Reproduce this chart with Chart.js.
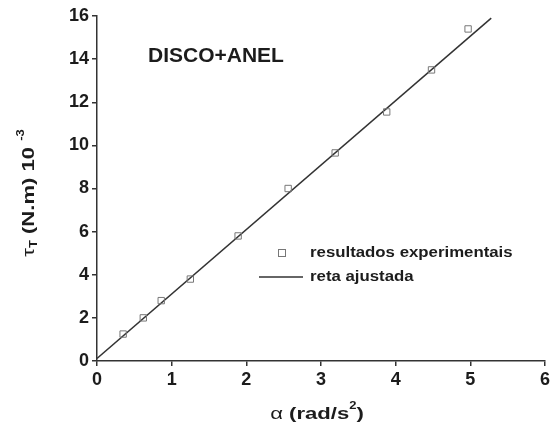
<!DOCTYPE html>
<html>
<head>
<meta charset="utf-8">
<script src="https://cdn.jsdelivr.net/npm/chart.js@4/dist/chart.umd.min.js"></script>
<style>
html, body { margin: 0; padding: 0; background: #fff; }
#wrap { width: 554px; height: 427px; }
</style>
</head>
<body>
<div id="wrap"><canvas id="torque-chart"></canvas></div>
<script>
// experimental points: angular acceleration vs torque (x 10^-3)
var alphaVals = [0.35, 0.62, 0.86, 1.25, 1.89, 2.56, 3.19, 3.88, 4.48, 4.97];
var torqueVals = [1.25, 2.0, 2.8, 3.8, 5.8, 8.0, 9.65, 11.55, 13.5, 15.4];
// fitted straight line, end points
var fitX = [0, 5.28];
var fitY = [0.12, 15.9];
var xTicks = [0, 1, 2, 3, 4, 5, 6];
var yTicks = [0, 2, 4, 6, 8, 10, 12, 14, 16];
var seriesLabels = ['resultados experimentais', 'reta ajustada'];
var panelLabel = 'DISCO+ANEL';

var ink = '#1c1c1c';
var fam = '"Liberation Sans", Arial, sans-serif';
var boldFont = 'bold 17px ' + fam;
var smallFont = 'bold 10px ' + fam;
var greekFont = '17px ' + fam;

// draws a list of [text, font, dy] pieces one after the other, centred on 0
function drawPieces(ctx, pieces) {
    var total = 0;
    pieces.forEach(function (p) { ctx.font = p[1]; p.w = ctx.measureText(p[0]).width; total += p.w; });
    var x = -total / 2;
    pieces.forEach(function (p) { ctx.font = p[1]; ctx.fillText(p[0], x, p[2]); x += p.w; });
}

//////extra text: axis titles, panel label, legend//////
var textPlugin = {
    id: 'textPlugin',
    afterDraw: function (chart) {
        var ctx = chart.ctx;
        ctx.save();
        ctx.fillStyle = ink;
        ctx.textBaseline = 'middle';
        ctx.textAlign = 'left';

        // panel label
        ctx.font = 'bold 21px ' + fam;
        ctx.fillText(panelLabel, 148, 56);

        // x title: α (rad/s²)
        ctx.save();
        ctx.translate(317, 414);
        ctx.scale(1.3, 1);
        drawPieces(ctx, [['α ', greekFont, 0], ['(rad/s', boldFont, 0], ['2', smallFont, -8], [')', boldFont, 0]]);
        ctx.restore();

        // y title: τT (N.m) 10^-3, rotated
        ctx.save();
        ctx.translate(29, 193);
        ctx.rotate(-Math.PI / 2);
        ctx.scale(1.3, 1);
        drawPieces(ctx, [['τ', greekFont, 0], ['T', smallFont, 5], [' (N.m) 10 ', boldFont, 0], ['-3', smallFont, -8]]);
        ctx.restore();

        // legend
        ctx.strokeStyle = '#777';
        ctx.lineWidth = 1;
        ctx.strokeRect(278.5, 249.5, 7, 7);
        ctx.strokeStyle = '#333';
        ctx.lineWidth = 1.5;
        ctx.beginPath();
        ctx.moveTo(259, 277);
        ctx.lineTo(303, 277);
        ctx.stroke();
        ctx.save();
        ctx.translate(310, 0);
        ctx.scale(1.12, 1);
        ctx.font = 'bold 15px ' + fam;
        ctx.fillText(seriesLabels[0], 0, 253);
        ctx.fillText(seriesLabels[1], 0, 277);
        ctx.restore();
        ctx.restore();
    }
};

var ctx = document.getElementById('torque-chart').getContext('2d');
var chart = new Chart(ctx, {
    type: 'scatter',
    data: {
        datasets: [{
            label: seriesLabels[0],
            data: toPoints(alphaVals, torqueVals),
            pointStyle: 'rect',
            pointRadius: 4.5,
            borderColor: '#777',
            borderWidth: 1,
            backgroundColor: 'rgba(0,0,0,0)',
            showLine: false
        }, {
            label: seriesLabels[1],
            data: toPoints(fitX, fitY),
            showLine: true,
            pointRadius: 0,
            borderColor: '#333',
            borderWidth: 1.5,
            fill: false
        }]
    },
    options: {
        responsive: true,
        maintainAspectRatio: false,
        animation: false,
        layout: { padding: { top: 16, right: 9, left: 0, bottom: 0 } },
        plugins: {
            legend: { display: false },
            tooltip: { enabled: false }
        },
        scales: {
            x: {
                type: 'linear',
                min: 0,
                max: 6,
                afterBuildTicks: function (scale) {
                    scale.ticks = xTicks.map(function (v) { return { value: v }; });
                },
                afterFit: function (scale) { scale.height = 66; },
                ticks: { color: ink, font: { family: fam, size: 18, weight: 'bold' }, padding: 3, maxRotation: 0 },
                grid: { drawOnChartArea: false, tickLength: 5, color: '#333', lineWidth: 1.5 },
                border: { color: '#333', width: 1.5 }
            },
            y: {
                type: 'linear',
                min: 0,
                max: 16,
                afterBuildTicks: function (scale) {
                    scale.ticks = yTicks.map(function (v) { return { value: v }; });
                },
                afterFit: function (scale) { scale.width = 97; },
                ticks: { color: ink, font: { family: fam, size: 18, weight: 'bold' }, padding: 3 },
                grid: { drawOnChartArea: false, tickLength: 5, color: '#333', lineWidth: 1.5 },
                border: { color: '#333', width: 1.5 }
            }
        }
    },
    plugins: [textPlugin]
});

function toPoints(xs, ys) {
    return xs.map(function (x, i) { return { x: x, y: ys[i] }; });
}
</script>
</body>
</html>
